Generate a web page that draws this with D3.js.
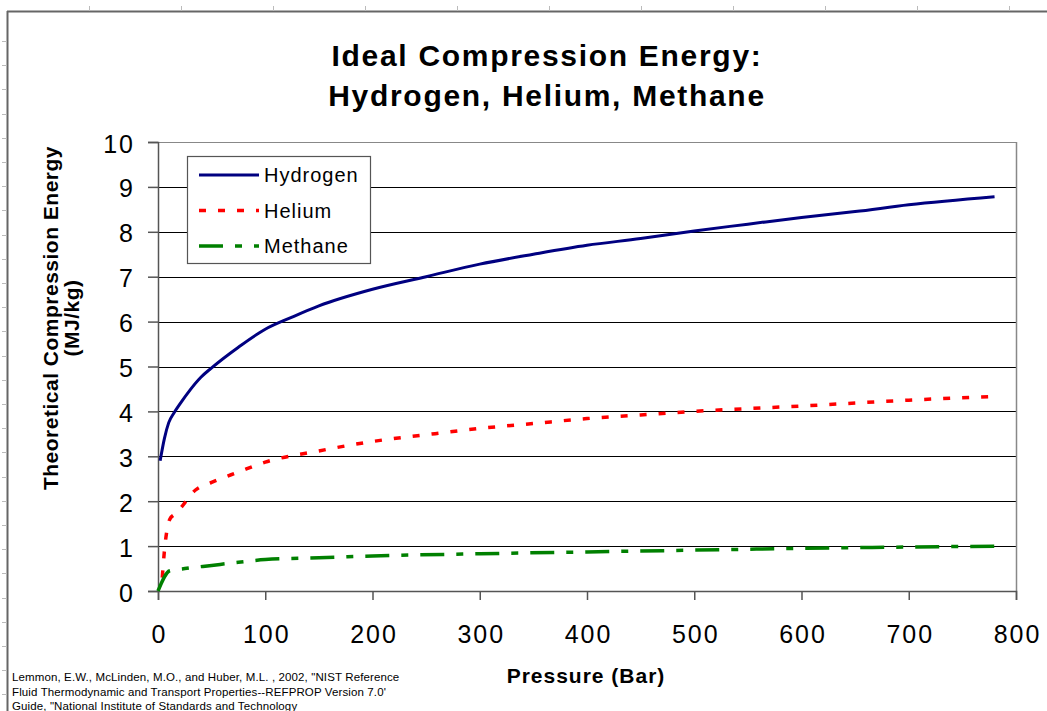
<!DOCTYPE html>
<html>
<head>
<meta charset="utf-8">
<script src="https://cdn.jsdelivr.net/npm/d3@7"></script>
<style>
  body { margin: 0; background: #fff; }
  svg { display: block; font-family: Arial, "Liberation Sans", sans-serif; }
</style>
</head>
<body>
<svg id="chart" width="1047" height="711"></svg>
<script>
  // pressure (bar) / energy (MJ/kg)
  var hydrogenP = [2, 6, 10, 15, 20, 30, 40, 50, 75, 100, 125, 150, 200, 250, 300, 350, 400, 450, 500, 550, 600, 650, 700, 780];
  var hydrogenE = [2.9, 3.4, 3.75, 3.97, 4.15, 4.48, 4.76, 4.97, 5.43, 5.83, 6.1, 6.35, 6.72, 7.0, 7.28, 7.5, 7.7, 7.85, 8.02, 8.17, 8.32, 8.45, 8.6, 8.78];
  var heliumP = [4, 6, 8, 11, 15, 20, 35, 50, 75, 100, 150, 200, 250, 300, 350, 400, 450, 500, 600, 700, 785];
  var heliumE = [0.3, 0.9, 1.3, 1.6, 1.7, 1.82, 2.25, 2.42, 2.65, 2.87, 3.12, 3.33, 3.48, 3.62, 3.73, 3.84, 3.92, 4.0, 4.12, 4.25, 4.34];
  var methaneP = [0, 11, 25, 50, 75, 100, 150, 200, 300, 400, 500, 600, 700, 785];
  var methaneE = [0, 0.45, 0.5, 0.57, 0.64, 0.7, 0.74, 0.78, 0.83, 0.87, 0.91, 0.95, 0.98, 1.0];
  var xTicks = [0, 100, 200, 300, 400, 500, 600, 700, 800];
  var yTicks = [0, 1, 2, 3, 4, 5, 6, 7, 8, 9, 10];
  var seriesNames = ['Hydrogen', 'Helium', 'Methane'];
  var titleLines = ['Ideal Compression Energy:', 'Hydrogen, Helium, Methane'];
  var yTitleLines = ['Theoretical Compression Energy', '(MJ/kg)'];
  var citeLines = [
    'Lemmon, E.W., McLinden, M.O., and Huber, M.L. , 2002, "NIST Reference',
    "Fluid Thermodynamic and Transport Properties--REFPROP Version 7.0'",
    'Guide, "National Institute of Standards and Technology'
  ];

  var svg = d3.select('#chart');
  var W = 1047, H = 711;

  // sheet frame and ruler ticks
  var frame = svg.append('g');
  frame.append('line').attr('x1', 7).attr('x2', W).attr('y1', 11.5).attr('y2', 11.5)
    .attr('stroke', '#666').attr('stroke-width', 2);
  frame.append('line').attr('x1', 7.5).attr('x2', 7.5).attr('y1', 11).attr('y2', H)
    .attr('stroke', '#666').attr('stroke-width', 2);
  d3.range(89, W, 92).forEach(function (x) {
    frame.append('line').attr('x1', x + 0.5).attr('x2', x + 0.5).attr('y1', 6).attr('y2', 11)
      .attr('stroke', '#bbb');
  });
  d3.range(41, H, 24.2).forEach(function (y) {
    frame.append('line').attr('x1', 2).attr('x2', 7).attr('y1', Math.round(y) + 0.5).attr('y2', Math.round(y) + 0.5)
      .attr('stroke', '#bbb');
  });

  var m = { left: 158, right: 1016, top: 142, bottom: 591 };
  var x = d3.scaleLinear().domain([0, 800]).range([m.left, m.right]);
  var y = d3.scaleLinear().domain([0, 10]).range([m.bottom, m.top]);

  // grid
  svg.append('g').selectAll('line').data(yTicks.slice(1)).enter().append('line')
    .attr('x1', m.left).attr('x2', m.right)
    .attr('y1', function (d) { return Math.round(y(d)) + 0.5; })
    .attr('y2', function (d) { return Math.round(y(d)) + 0.5; })
    .attr('stroke', function (d) { return d === 10 ? '#888' : '#000'; })
    .attr('stroke-width', 1.2);
  svg.append('line').attr('x1', m.right + 0.5).attr('x2', m.right + 0.5)
    .attr('y1', m.top).attr('y2', m.bottom).attr('stroke', '#888').attr('stroke-width', 1.5);

  // axes
  var yAxis = svg.append('g').attr('transform', 'translate(' + m.left + ',0)')
    .call(d3.axisLeft(y).tickValues(yTicks).tickSize(10).tickPadding(13).tickFormat(d3.format('d')));
  var xAxis = svg.append('g').attr('transform', 'translate(0,' + m.bottom + ')')
    .call(d3.axisBottom(x).tickValues(xTicks).tickSize(9).tickPadding(25).tickFormat(d3.format('d')));
  [xAxis, yAxis].forEach(function (a) {
    a.select('.domain').attr('stroke', '#555').attr('stroke-width', 1.5);
    a.selectAll('.tick line').attr('stroke', '#555').attr('stroke-width', 1.5);
    a.selectAll('.tick text').attr('fill', '#000').style('font-size', '25px')
      .style('letter-spacing', '2px')
      .style('font-family', 'Arial, "Liberation Sans", sans-serif');
  });
  yAxis.selectAll('.tick text').attr('dy', '0.4em');
  xAxis.selectAll('.tick text').attr('dx', '1px');

  // series
  var styles = [
    { color: '#000080', dash: null, width: 3 },
    { color: '#ff0000', dash: '7,12', width: 3.5 },
    { color: '#008000', dash: '24,12,7,12', width: 3.5 }
  ];
  var seriesData = [
    d3.zip(hydrogenP, hydrogenE),
    d3.zip(heliumP, heliumE),
    d3.zip(methaneP, methaneE)
  ];
  var line = d3.line().x(function (d) { return x(d[0]); }).y(function (d) { return y(d[1]); })
    .curve(d3.curveMonotoneX);
  seriesData.forEach(function (data, i) {
    svg.append('path').datum(data).attr('d', line).attr('fill', 'none')
      .attr('stroke', styles[i].color).attr('stroke-width', styles[i].width)
      .attr('stroke-dasharray', styles[i].dash);
  });

  // legend
  var lg = svg.append('g');
  lg.append('rect').attr('x', 187.5).attr('y', 156.5).attr('width', 183).attr('height', 107)
    .attr('fill', '#fff').attr('stroke', '#555').attr('stroke-width', 1.2);
  seriesNames.forEach(function (name, i) {
    var ly = 175 + i * 35.5;
    lg.append('line').attr('x1', 199).attr('x2', 259).attr('y1', ly).attr('y2', ly)
      .attr('stroke', styles[i].color).attr('stroke-width', styles[i].width)
      .attr('stroke-dasharray', styles[i].dash);
    lg.append('text').attr('x', 264).attr('y', ly).attr('dy', '0.36em')
      .style('font-size', '20px').style('letter-spacing', '1px').text(name);
  });

  // titles
  svg.append('g').selectAll('text').data(titleLines).enter().append('text')
    .attr('x', 547).attr('y', function (d, i) { return 66 + i * 40; })
    .attr('text-anchor', 'middle').style('font-size', '30px').style('font-weight', 'bold')
    .style('letter-spacing', '1.7px')
    .text(function (d) { return d; });

  svg.append('g').attr('transform', 'translate(0,318) rotate(-90)')
    .selectAll('text').data(yTitleLines).enter().append('text')
    .attr('x', 0).attr('y', function (d, i) { return 58 + i * 21; })
    .attr('text-anchor', 'middle').style('font-size', '21px').style('font-weight', 'bold')
    .style('letter-spacing', '0.5px')
    .text(function (d) { return d; });

  svg.append('text').attr('x', 586).attr('y', 683).attr('text-anchor', 'middle')
    .style('font-size', '21px').style('font-weight', 'bold').style('letter-spacing', '1px')
    .text('Pressure (Bar)');

  svg.append('g').selectAll('text').data(citeLines).enter().append('text')
    .attr('x', 12).attr('y', function (d, i) { return 681 + i * 14.5; })
    .style('font-size', '11.5px').style('letter-spacing', '0.12px')
    .text(function (d) { return d; });
</script>
</body>
</html>
